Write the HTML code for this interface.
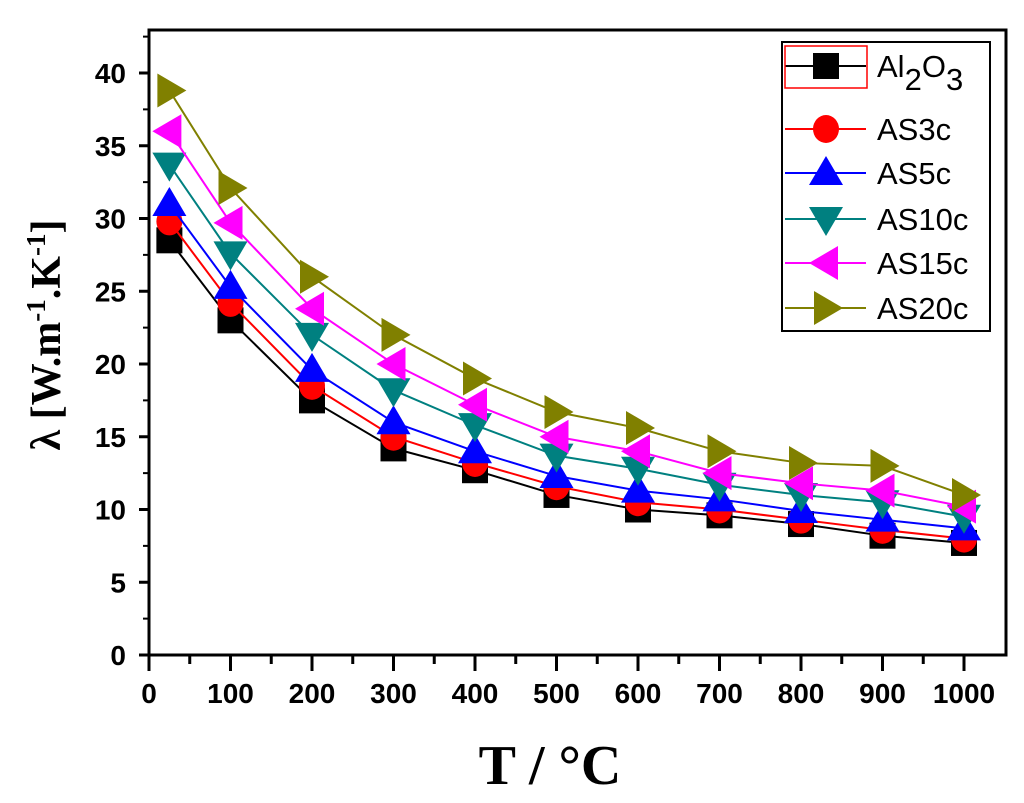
<!DOCTYPE html>
<html><head><meta charset="utf-8"><style>
body{margin:0;background:#fff;}
svg{display:block;}
</style></head><body>
<svg id="chart" width="1024" height="803" xmlns="http://www.w3.org/2000/svg">
<g id="axes"></g>
<g id="series"></g>
<g id="legend"></g>
<text x="550" y="784" font-family="Liberation Serif, serif" font-weight="bold" font-size="56" text-anchor="middle">T / °C</text>
<text transform="translate(60,335) rotate(-90)" font-family="Liberation Serif, serif" font-weight="bold" font-size="42" text-anchor="middle">λ [W.m<tspan dy="-15" font-size="27">-1</tspan><tspan dy="15">.K</tspan><tspan dy="-15" font-size="27">-1</tspan><tspan dy="15">]</tspan></text>
</svg>
<script>
const temps=[25,100,200,300,400,500,600,700,800,900,1000];
const names=["Al2O3","AS3c","AS5c","AS10c","AS15c","AS20c"];
const al2o3=[28.5,23,17.5,14.2,12.7,11,10,9.6,9,8.2,7.7];
const as3c=[29.8,24.2,18.5,15,13.2,11.6,10.5,10,9.3,8.6,8];
const as5c=[31,25.3,19.6,16,14,12.3,11.3,10.7,9.9,9.3,8.7];
const as10c=[33.7,27.6,22,18.2,15.8,13.7,12.8,11.7,11,10.5,9.5];
const as15c=[36,29.7,23.8,20,17.2,15,14,12.5,11.8,11.3,10.2];
const as20c=[38.8,32.1,26,22,19,16.7,15.6,14,13.2,13,11];
const xTicks=[0,100,200,300,400,500,600,700,800,900,1000];
const yTicks=[0,5,10,15,20,25,30,35,40];

const NS="http://www.w3.org/2000/svg";
const X0=149,X1=1006,Y0=655,Y1=30;
const xs=v=>X0+v*0.815;
const ys=v=>Y0-v*14.55;
function mk(tag,attrs,parent){const e=document.createElementNS(NS,tag);for(const k in attrs)e.setAttribute(k,attrs[k]);parent.appendChild(e);return e;}
const axes=document.getElementById('axes');
const frame=mk('rect',{x:X0,y:Y1,width:X1-X0,height:Y0-Y1,fill:'none',stroke:'#000','stroke-width':3},axes);


xTicks.forEach(t=>{
  const l=mk('line',{x1:xs(t),x2:xs(t),y1:Y0,y2:Y0+16,stroke:'#000','stroke-width':3},axes);
  
  
  if(t<1000){
  const m=mk('line',{x1:xs(t+50),x2:xs(t+50),y1:Y0,y2:Y0+9,stroke:'#000','stroke-width':3},axes);
  
  }
  const tx=mk('text',{x:xs(t),y:Y0+48,'text-anchor':'middle','font-family':'Liberation Sans, sans-serif','font-weight':'bold','font-size':28},axes);
  tx.textContent=t;
  
  
});
yTicks.forEach(t=>{
  const l=mk('line',{x1:X0-10,x2:X0,y1:ys(t),y2:ys(t),stroke:'#000','stroke-width':3},axes);
  
  
  const m=mk('line',{x1:X0-6,x2:X0,y1:ys(t+2.5),y2:ys(t+2.5),stroke:'#000','stroke-width':2},axes);
  
  
  const tx=mk('text',{x:X0-23,y:ys(t)+10,'text-anchor':'end','font-family':'Liberation Sans, sans-serif','font-weight':'bold','font-size':28},axes);
  tx.textContent=t;
  
  
});
const data=[al2o3,as3c,as5c,as10c,as15c,as20c];
const colors=['#000000','#ff0000','#0000ff','#008080','#ff00ff','#808000'];
const shapes=['square','circle','up','down','left','right'];
function marker(shape,cx,cy,color,parent){
  const r=15;let e;
  if(shape==='square')e=mk('rect',{x:cx-13,y:cy-13,width:26,height:26,fill:color},parent);
  else if(shape==='circle')e=mk('ellipse',{cx:cx,cy:cy,rx:13,ry:14,fill:color},parent);
  else{let p;
    if(shape==='up')p=[[cx,cy-r-2],[cx-r-2,cy+r-3],[cx+r+2,cy+r-3]];
    if(shape==='down')p=[[cx,cy+r+2],[cx-r-2,cy-r+3],[cx+r+2,cy-r+3]];
    if(shape==='left')p=[[cx-r-2,cy],[cx+r-3,cy-r-2],[cx+r-3,cy+r+2]];
    if(shape==='right')p=[[cx+r+2,cy],[cx-r+3,cy-r-2],[cx-r+3,cy+r+2]];
    e=mk('polygon',{points:p.map(q=>q.join(',')).join(' '),fill:color},parent);}
  return e;
}
const sg=document.getElementById('series');
data.forEach((arr,i)=>{
  const g=mk('g',{},sg);
  
  
  const pl=mk('polyline',{points:arr.map((v,j)=>xs(temps[j])+','+ys(v)).join(' '),fill:'none',stroke:colors[i],'stroke-width':2},g);
  
  
  arr.forEach((v,j)=>{
    const m=marker(shapes[i],xs(temps[j]),ys(v),colors[i],g);
    
    
  });
});
const lg=document.getElementById('legend');
const box=mk('rect',{x:782,y:42,width:208,height:289,fill:'#fff',stroke:'#000','stroke-width':2},lg);


const ly=[66,129,173,219,263,308];
names.forEach((n,i)=>{
  const g=mk('g',{},lg);
  
  
  const l=mk('line',{x1:785,x2:866,y1:ly[i],y2:ly[i],stroke:colors[i],'stroke-width':2},g);
  
  
  const m=marker(shapes[i],826,ly[i],colors[i],g);
  
  
  const t=mk('text',{x:877,y:ly[i]+11,'font-family':'Liberation Sans, sans-serif','font-size':31},g);
  if(i===0){t.innerHTML='Al<tspan dy="13">2</tspan><tspan dy="-13">O</tspan><tspan dy="13">3</tspan>';}
  else t.textContent=n;
  
  
});
const rb=mk('rect',{x:785,y:46,width:82,height:42,fill:'none',stroke:'#ff0000','stroke-width':1.5},lg);


</script>
</body></html>
